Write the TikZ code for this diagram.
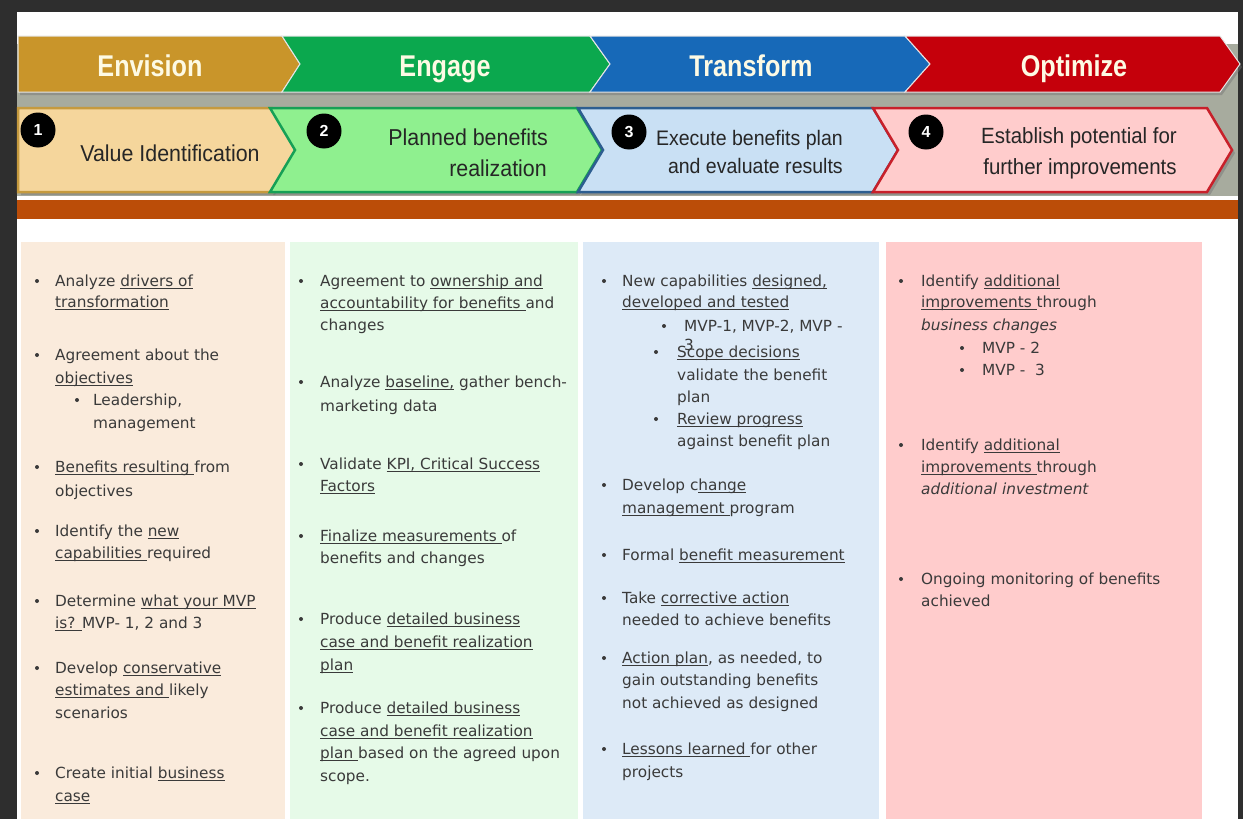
\documentclass[tikz,border=0pt]{standalone}
\usepackage{graphicx}
\usepackage{fontspec}
\setmainfont{DejaVu Sans}
\newfontfamily\headfont{Liberation Sans}

\definecolor{frame}{HTML}{2E2E2E}
\definecolor{band}{HTML}{A7AB9E}
\definecolor{rust}{HTML}{BB4D08}
\definecolor{cream}{HTML}{FDFAE4}
\definecolor{txt}{HTML}{3A3A3A}
\definecolor{envC}{HTML}{C9952A}
\definecolor{engC}{HTML}{0BA84E}
\definecolor{traC}{HTML}{1769B8}
\definecolor{optC}{HTML}{C5000B}
\definecolor{oneF}{HTML}{F5D69C}\definecolor{oneD}{HTML}{C59A3E}
\definecolor{twoF}{HTML}{8FF08F}\definecolor{twoD}{HTML}{16A056}
\definecolor{thrF}{HTML}{C9E0F4}\definecolor{thrD}{HTML}{2D5E90}
\definecolor{fouF}{HTML}{FFCCCC}\definecolor{fouD}{HTML}{C8202A}
\definecolor{colA}{HTML}{FAEBDC}
\definecolor{colB}{HTML}{E6FAE8}
\definecolor{colC}{HTML}{DDEAF7}
\definecolor{colD}{HTML}{FFCCCC}

% underline at a fixed depth below the baseline
\newlength\ulw
\newcommand\ul[1]{\settowidth\ulw{#1}\rlap{\rule[-2.6pt]{\ulw}{0.9pt}}#1}
% one line of body text (given by the middle of its lower-case letters), and one bullet dot
\newcommand\tl[4]{\node[body] (#1) at (#2,#3+5) {#4};}
\newcommand\bu[3]{\node[bdot] (#1) at (#2,#3) {};}

\tikzset{
  body/.style={anchor=base west, inner sep=0pt, text=txt,
    font=\fontsize{15.3}{18}\selectfont},
  bdot/.style={circle, fill=txt, inner sep=0pt, minimum size=4pt},
  head/.style={text=cream, inner sep=0pt, anchor=base,
    font=\headfont\bfseries\fontsize{30}{30}\selectfont},
  stage/.style={text=black!85, inner sep=0pt,
    font=\headfont\fontsize{23}{23}\selectfont},
  num/.style={circle, fill=black, minimum size=35pt, inner sep=0pt,
    text=white, font=\headfont\bfseries\fontsize{16}{16}\selectfont},
  shade/.style={fill=black!55, opacity=.45},
}

\begin{document}
\begin{tikzpicture}[x=1pt,y=-1pt]
\useasboundingbox (0,0) rectangle (1243,819);
\fill[white] (0,0) rectangle (1243,819);

% frame
\fill[frame] (0,0) rectangle (17,819);
\fill[frame] (0,0) rectangle (1243,12);
\fill[frame] (1238,0) rectangle (1243,819);

% grey band and rust bar
\fill[band] (17,44) rectangle (1238,196);
\fill[rust] (17,200) rectangle (1238,219);

% phase chevrons (top row)
\begin{scope}[shift={(2,3)}]
\fill[shade] (18,36) -- (282,36) -- (300,64) -- (282,92) -- (18,92) -- cycle;
\fill[shade] (282,36) -- (590,36) -- (610,64) -- (590,92) -- (282,92) -- (300,64) -- cycle;
\fill[shade] (590,36) -- (905,36) -- (930,64) -- (905,92) -- (590,92) -- (610,64) -- cycle;
\fill[shade] (905,36) -- (1220,36) -- (1240,64) -- (1220,92) -- (905,92) -- (930,64) -- cycle;
\end{scope}
\filldraw[fill=envC, draw=white!80!gray, line width=1pt]
  (18,36) -- (282,36) -- (300,64) -- (282,92) -- (18,92) -- cycle;
\filldraw[fill=engC, draw=white!80!gray, line width=1pt]
  (282,36) -- (590,36) -- (610,64) -- (590,92) -- (282,92) -- (300,64) -- cycle;
\filldraw[fill=traC, draw=white!80!gray, line width=1pt]
  (590,36) -- (905,36) -- (930,64) -- (905,92) -- (590,92) -- (610,64) -- cycle;
\filldraw[fill=optC, draw=white!80!gray, line width=1pt]
  (905,36) -- (1220,36) -- (1240,64) -- (1220,92) -- (905,92) -- (930,64) -- cycle;

\node[head] (envision)  at (150,76)  {\scalebox{0.84}[1]{Envision}};
\node[head] (engage)    at (445,76)  {\scalebox{0.84}[1]{Engage}};
\node[head] (transform) at (751,76)  {\scalebox{0.84}[1]{Transform}};
\node[head] (optimize)  at (1074,76) {\scalebox{0.84}[1]{Optimize}};

% step chevrons (second row)
\begin{scope}[shift={(3,3)}]
\fill[shade] (18,108) -- (272,108) -- (297,150) -- (272,192) -- (18,192) -- cycle;
\fill[shade] (270,108) -- (577,108) -- (602,150) -- (577,192) -- (270,192) -- (295,150) -- cycle;
\fill[shade] (578,108) -- (873,108) -- (898,150) -- (873,192) -- (578,192) -- (603,150) -- cycle;
\fill[shade] (873,108) -- (1207,108) -- (1232,150) -- (1207,192) -- (873,192) -- (898,150) -- cycle;
\end{scope}
\filldraw[fill=oneF, draw=oneD, line width=2.5pt, line join=miter]
  (18,108) -- (272,108) -- (297,150) -- (272,192) -- (18,192) -- cycle;
\filldraw[fill=twoF, draw=twoD, line width=2.5pt, line join=miter]
  (270,108) -- (577,108) -- (602,150) -- (577,192) -- (270,192) -- (295,150) -- cycle;
\filldraw[fill=thrF, draw=thrD, line width=2.5pt, line join=miter]
  (578,108) -- (873,108) -- (898,150) -- (873,192) -- (578,192) -- (603,150) -- cycle;
\filldraw[fill=fouF, draw=fouD, line width=2.5pt, line join=miter]
  (873,108) -- (1207,108) -- (1232,150) -- (1207,192) -- (873,192) -- (898,150) -- cycle;

\node[num] (n1) at (38,130)  {1};
\node[num] (n2) at (324,131) {2};
\node[num] (n3) at (629,132) {3};
\node[num] (n4) at (926,132) {4};

\node[stage, anchor=base] (s1) at (170,161) {\scalebox{0.93}[1]{Value Identification}};
\node[stage, anchor=base east] (s2a) at (548,145) {\scalebox{0.93}[1]{Planned benefits}};
\node[stage, anchor=base east] (s2b) at (547,176) {\scalebox{0.93}[1]{realization}};
\node[stage, anchor=base east, font=\headfont\fontsize{21}{21}\selectfont]
  (s3a) at (843,145) {\scalebox{0.93}[1]{Execute benefits plan}};
\node[stage, anchor=base east, font=\headfont\fontsize{21}{21}\selectfont]
  (s3b) at (843,173) {\scalebox{0.93}[1]{and evaluate results}};
\node[stage, anchor=base, font=\headfont\fontsize{22}{22}\selectfont]
  (s4a) at (1079,143) {\scalebox{0.93}[1]{Establish potential for}};
\node[stage, anchor=base, font=\headfont\fontsize{22}{22}\selectfont]
  (s4b) at (1080,174) {\scalebox{0.93}[1]{further improvements}};

% columns
\fill[colA] (21,242) rectangle (285,819);
\fill[colB] (290,242) rectangle (578,819);
\fill[colC] (583,242) rectangle (879,819);
\fill[colD] (886,242) rectangle (1202,819);

% column 1
\bu{a1d}{37}{281}\bu{a3d}{37}{355}\bu{a5d}{77}{400}\bu{a7d}{37}{467}
\bu{a9d}{37}{531}\bu{a11d}{37}{601}\bu{a13d}{37}{668}\bu{a16d}{37}{773}
\tl{a1}{55}{281}{Analyze \ul{drivers of}}
\tl{a2}{55}{302}{\ul{transformation}}
\tl{a3}{55}{355}{Agreement about the}
\tl{a4}{55}{378}{\ul{objectives}}
\tl{a5}{93}{400}{Leadership,}
\tl{a6}{93}{423}{management}
\tl{a7}{55}{467}{\ul{Benefits resulting }from}
\tl{a8}{55}{491}{objectives}
\tl{a9}{55}{531}{Identify the \ul{new}}
\tl{a10}{55}{553}{\ul{capabilities }required}
\tl{a11}{55}{601}{Determine \ul{what your MVP}}
\tl{a12}{55}{623}{\ul{is? }MVP- 1, 2 and 3}
\tl{a13}{55}{668}{Develop \ul{conservative}}
\tl{a14}{55}{690}{\ul{estimates and }likely}
\tl{a15}{55}{713}{scenarios}
\tl{a16}{55}{773}{Create initial \ul{business}}
\tl{a17}{55}{796}{\ul{case}}

% column 2
\bu{b1d}{301}{281}\bu{b4d}{301}{382}\bu{b6d}{301}{464}
\bu{b8d}{301}{536}\bu{b10d}{301}{619}\bu{b13d}{301}{708}
\tl{b1}{320}{281}{Agreement to \ul{ownership and}}
\tl{b2}{320}{303}{\ul{accountability for benefits }and}
\tl{b3}{320}{325}{changes}
\tl{b4}{320}{382}{Analyze \ul{baseline,} gather bench-}
\tl{b5}{320}{406}{marketing data}
\tl{b6}{320}{464}{Validate \ul{KPI, Critical Success}}
\tl{b7}{320}{486}{\ul{Factors}}
\tl{b8}{320}{536}{\ul{Finalize measurements }of}
\tl{b9}{320}{558}{benefits and changes}
\tl{b10}{320}{619}{Produce \ul{detailed business}}
\tl{b11}{320}{642}{\ul{case and benefit realization}}
\tl{b12}{320}{665}{\ul{plan}}
\tl{b13}{320}{708}{Produce \ul{detailed business}}
\tl{b14}{320}{731}{\ul{case and benefit realization}}
\tl{b15}{320}{753}{\ul{plan }based on the agreed upon}
\tl{b16}{320}{776}{scope.}

% column 3
\bu{c1d}{604}{281}\bu{c3d}{664}{326}\bu{c4d}{656}{352}\bu{c7d}{656}{419}
\bu{c9d}{604}{485}\bu{c11d}{604}{555}\bu{c12d}{604}{598}
\bu{c14d}{604}{658}\bu{c17d}{604}{749}
\tl{c1}{622}{281}{New capabilities \ul{designed,}}
\tl{c2}{622}{302}{\ul{developed and tested}}
\tl{c3}{684}{326}{MVP-1, MVP-2, MVP -}
\tl{c3b}{684}{345}{3}
\tl{c4}{677}{352}{\ul{Scope decisions}}
\tl{c5}{677}{375}{validate the benefit}
\tl{c6}{677}{397}{plan}
\tl{c7}{677}{419}{\ul{Review progress}}
\tl{c8}{677}{441}{against benefit plan}
\tl{c9}{622}{485}{Develop c\ul{hange}}
\tl{c10}{622}{508}{\ul{management }program}
\tl{c11}{622}{555}{Formal \ul{benefit measurement}}
\tl{c12}{622}{598}{Take \ul{corrective action}}
\tl{c13}{622}{620}{needed to achieve benefits}
\tl{c14}{622}{658}{\ul{Action plan}, as needed,  to}
\tl{c15}{622}{680}{gain outstanding benefits}
\tl{c16}{622}{703}{not achieved as designed}
\tl{c17}{622}{749}{\ul{Lessons learned }for other}
\tl{c18}{622}{772}{projects}

% column 4
\bu{d1d}{901}{281}\bu{d4d}{962}{348}\bu{d5d}{962}{370}
\bu{d6d}{901}{445}\bu{d9d}{901}{579}
\tl{d1}{921}{281}{Identify \ul{additional}}
\tl{d2}{921}{302}{\ul{improvements }through}
\tl{d3}{921}{325}{\itshape business changes}
\tl{d4}{982}{348}{MVP - 2}
\tl{d5}{982}{370}{MVP -~~3}
\tl{d6}{921}{445}{Identify \ul{additional}}
\tl{d7}{921}{467}{\ul{improvements }through}
\tl{d8}{921}{489}{\itshape additional investment}
\tl{d9}{921}{579}{Ongoing monitoring of benefits}
\tl{d10}{921}{601}{achieved}
\end{tikzpicture}
\end{document}
